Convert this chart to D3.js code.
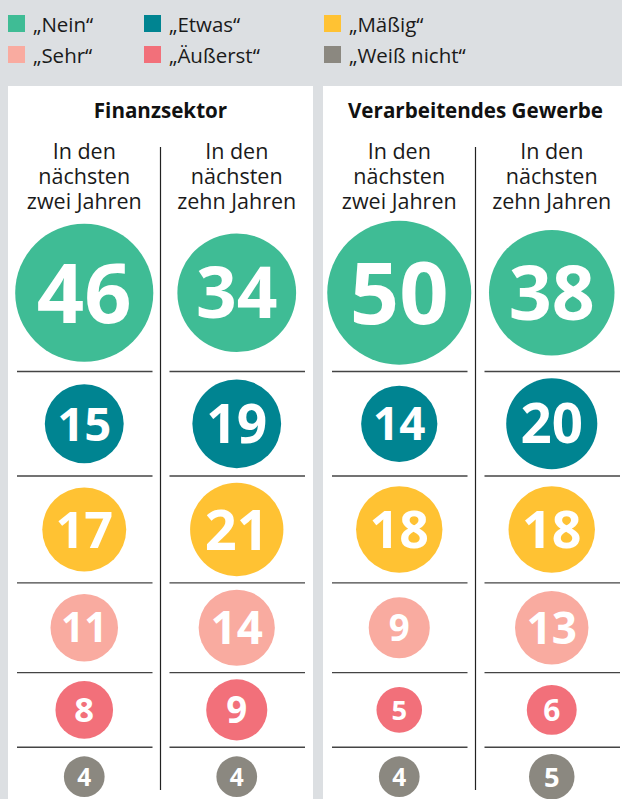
<!DOCTYPE html>
<html>
<head>
<meta charset="utf-8">
<script src="https://cdn.jsdelivr.net/npm/d3@7"></script>
<style>
  body { margin: 0; background: #dcdfe2; }
  svg { display: block; font-family: "Open Sans", sans-serif; }
</style>
</head>
<body>
<div id="chart"></div>
<script>
// Data
const categories = ["„Nein“", "„Etwas“", "„Mäßig“", "„Sehr“", "„Äußerst“", "„Weiß nicht“"];
const colors = ["#3fbc95", "#008491", "#ffc233", "#f9aba0", "#f2707a", "#8b8880"];
const sectors = ["Finanzsektor", "Verarbeitendes Gewerbe"];
const horizons = ["zwei", "zehn"];
const horizonLabels = [["In den", "nächsten", "zwei Jahren"], ["In den", "nächsten", "zehn Jahren"]];

const finanzZwei = [46, 15, 17, 11, 8, 4];
const finanzZehn = [34, 19, 21, 14, 9, 4];
const gewerbeZwei = [50, 14, 18, 9, 5, 4];
const gewerbeZehn = [38, 20, 18, 13, 6, 5];

const values = {
    "Finanzsektor": { zwei: finanzZwei, zehn: finanzZehn },
    "Verarbeitendes Gewerbe": { zwei: gewerbeZwei, zehn: gewerbeZehn }
};

const width = 622, height = 799;

const svg = d3.select("#chart").append("svg")
    .attr("width", width)
    .attr("height", height);

svg.append("rect").attr("width", width).attr("height", height).attr("fill", "#dcdfe2");

// Legend, three columns, two rows
const legendCol = [8, 144, 324];
const legend = svg.append("g");
categories.forEach((c, i) => {
    const lx = legendCol[i % 3];
    const ly = 32 + Math.floor(i / 3) * 31;
    legend.append("rect")
        .attr("x", lx).attr("y", ly - 17)
        .attr("width", 17).attr("height", 17)
        .attr("fill", colors[i]);
    legend.append("text")
        .attr("x", lx + 25).attr("y", ly)
        .attr("font-size", 20.5)
        .attr("fill", "#1a1a1a")
        .text(c);
});

// Scales
const r = d3.scaleSqrt().domain([0, 50]).range([0, 72]);
const panelX = d3.scaleBand().domain(sectors).range([8, 628]).paddingInner(10 / 315);
const colX = d3.scaleBand().domain(horizons).range([0, panelX.bandwidth()]);

// Row heights from the largest circle in each row
const allSeries = sectors.flatMap(s => horizons.map(h => values[s][h]));
const rowTop = [214];
const rowH = categories.map((c, i) => 2 * r(d3.max(allSeries, s => s[i])) + 13.5);
rowH.forEach((h, i) => rowTop.push(rowTop[i] + h));

sectors.forEach(sector => {
    const px = panelX(sector);
    const g = svg.append("g").attr("transform", `translate(${px},0)`);

    g.append("rect")
        .attr("x", 0).attr("y", 86)
        .attr("width", panelX.bandwidth()).attr("height", height - 86)
        .attr("fill", "#fff");

    g.append("text")
        .attr("x", panelX.bandwidth() / 2).attr("y", 118)
        .attr("text-anchor", "middle")
        .attr("font-size", 20.6)
        .attr("font-weight", 700)
        .attr("fill", "#111")
        .text(sector);

    // Divider between the two columns
    g.append("line")
        .attr("x1", colX.bandwidth()).attr("x2", colX.bandwidth())
        .attr("y1", 147).attr("y2", 790)
        .attr("stroke", "#222").attr("stroke-width", 1.2);

    horizons.forEach((h, hi) => {
        const cx = colX(h) + colX.bandwidth() / 2;
        const col = g.append("g");

        // Column header, one text per line
        col.selectAll("text.head")
            .data(horizonLabels[hi])
            .join("text")
            .attr("class", "head")
            .attr("x", cx)
            .attr("y", (d, i) => 159 + i * 25)
            .attr("text-anchor", "middle")
            .attr("font-size", 21.5)
            .attr("fill", "#1a1a1a")
            .text(d => d);

        // Separator rules
        col.selectAll("line.rule")
            .data(rowTop.slice(1, categories.length))
            .join("line")
            .attr("class", "rule")
            .attr("x1", colX(h) + 9).attr("x2", colX(h) + colX.bandwidth() - 8)
            .attr("y1", d => d).attr("y2", d => d)
            .attr("stroke", "#444").attr("stroke-width", 1.4);

        const data = values[sector][h].map((v, i) => ({ v, i }));
        const cy = d => rowTop[d.i] + rowH[d.i] / 2;

        col.selectAll("circle")
            .data(data)
            .join("circle")
            .attr("cx", cx)
            .attr("cy", cy)
            .attr("r", d => r(d.v))
            .attr("fill", d => colors[d.i]);

        col.selectAll("text.val")
            .data(data)
            .join("text")
            .attr("class", "val")
            .attr("x", cx)
            .attr("y", d => cy(d) + 0.36 * 1.2 * r(d.v))
            .attr("text-anchor", "middle")
            .attr("font-size", d => 1.2 * r(d.v))
            .attr("font-weight", 700)
            .attr("fill", "#fff")
            .text(d => d.v);
    });
});
</script>
</body>
</html>
